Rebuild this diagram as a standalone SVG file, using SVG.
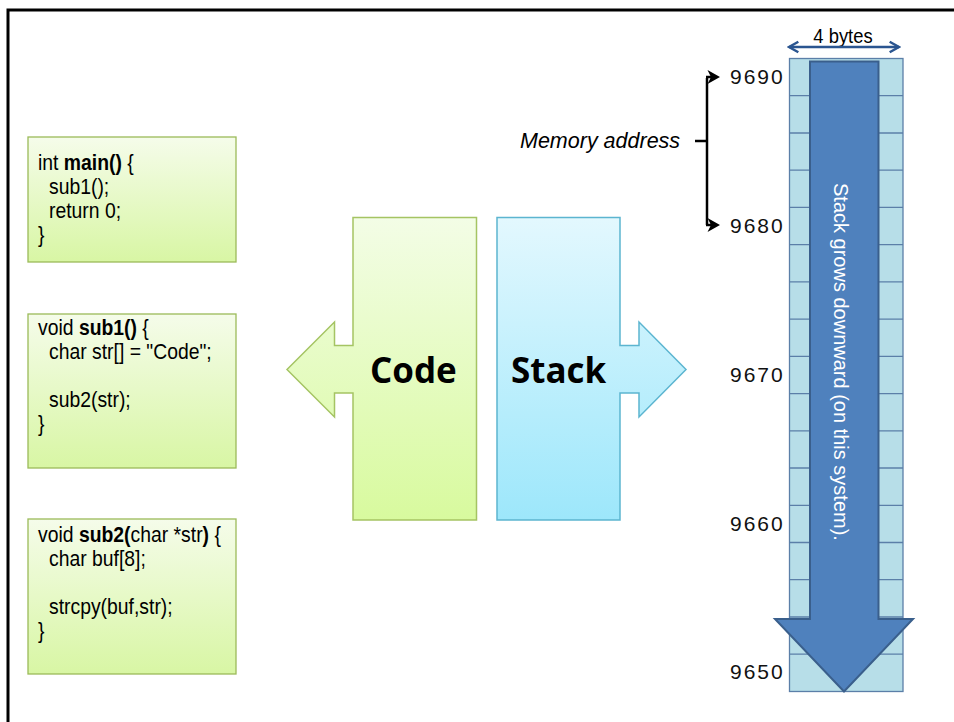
<svg xmlns="http://www.w3.org/2000/svg" width="954" height="722" viewBox="0 0 954 722">
<defs>
<linearGradient id="gGreen" x1="0" y1="0" x2="0" y2="1"><stop offset="0" stop-color="#F5FCEA"/><stop offset="1" stop-color="#D8F6A4"/></linearGradient>
<linearGradient id="gCode" x1="0" y1="0" x2="0" y2="1"><stop offset="0" stop-color="#F3FDE6"/><stop offset="1" stop-color="#D8FA9E"/></linearGradient>
<linearGradient id="gStack" x1="0" y1="0" x2="0" y2="1"><stop offset="0" stop-color="#E3F8FE"/><stop offset="1" stop-color="#9DE7FB"/></linearGradient>
<marker id="mBlue" viewBox="0 0 12 12" refX="10" refY="6" markerWidth="14" markerHeight="14" orient="auto-start-reverse" markerUnits="userSpaceOnUse">
<path d="M2,1.5 L10,6 L2,10.5" fill="none" stroke="#2A5590" stroke-width="2.2"/>
</marker>
</defs>
<style>
.code{font-family:"Liberation Sans",Arial,sans-serif;font-size:22px;fill:#000}
.b{font-weight:bold}
.box{stroke:#9BBB59;stroke-width:1.3;fill:url(#gGreen)}
.addr{font-family:"Liberation Sans",Arial,sans-serif;font-size:21px;letter-spacing:2px;fill:#111}
.cell{fill:#B7DEE8;stroke:#5B7FA8;stroke-width:1.3}
.big{font-family:"Open Sans","Liberation Sans",sans-serif;font-weight:bold;font-size:35px;fill:#000}
</style>
<rect width="954" height="722" fill="#fff"/>
<path d="M8,722 V10 H954" fill="none" stroke="#000" stroke-width="3"/>

<g id="box-main">
<rect class="box" x="28" y="137" width="208" height="125"/>
<g transform="translate(38 0) scale(0.88 1)">
<text class="code" x="0" y="170">int <tspan class="b">main()</tspan> {</text>
<text class="code" x="12.5" y="194">sub1();</text>
<text class="code" x="12.5" y="218">return 0;</text>
<text class="code" x="0" y="242">}</text>
</g>
</g>
<g id="box-sub1">
<rect class="box" x="28" y="314" width="208" height="154"/>
<g transform="translate(38 0) scale(0.88 1)">
<text class="code" x="0" y="335">void <tspan class="b">sub1()</tspan> {</text>
<text class="code" x="12.5" y="359">char str[] = "Code";</text>
<text class="code" x="12.5" y="407">sub2(str);</text>
<text class="code" x="0" y="431">}</text>
</g>
</g>
<g id="box-sub2">
<rect class="box" x="28" y="519" width="208" height="155"/>
<g transform="translate(38 0) scale(0.88 1)">
<text class="code" x="0" y="542">void <tspan class="b">sub2(</tspan>char *str<tspan class="b">)</tspan> {</text>
<text class="code" x="12.5" y="566">char buf[8];</text>
<text class="code" x="12.5" y="614">strcpy(buf,str);</text>
<text class="code" x="0" y="638">}</text>
</g>
</g>

<g id="code">
<path d="M353,217.5 H476.5 V520 H353 V393 H334.5 V417 L287,369.5 L334.5,322 V345.5 H353 Z" fill="url(#gCode)" stroke="#A5C463" stroke-width="1.5"/>
<text class="big" x="370" y="383">Code</text>
</g>
<g id="stack">
<path d="M497,217.5 H620 V345.5 H639 V322 L686,369.5 L639,417 V393 H620 V520 H497 Z" fill="url(#gStack)" stroke="#5CB5D0" stroke-width="1.5"/>
<text class="big" x="511" y="383">Stack</text>
</g>

<g id="memory-column">
<rect class="cell" x="789.5" y="58.5" width="113.5" height="633"/>
<g stroke="#5B7FA8" stroke-width="1.3">
<line x1="789.5" x2="903" y1="95.7" y2="95.7"/>
<line x1="789.5" x2="903" y1="133" y2="133"/>
<line x1="789.5" x2="903" y1="170.2" y2="170.2"/>
<line x1="789.5" x2="903" y1="207.4" y2="207.4"/>
<line x1="789.5" x2="903" y1="244.7" y2="244.7"/>
<line x1="789.5" x2="903" y1="281.9" y2="281.9"/>
<line x1="789.5" x2="903" y1="319.1" y2="319.1"/>
<line x1="789.5" x2="903" y1="356.3" y2="356.3"/>
<line x1="789.5" x2="903" y1="393.6" y2="393.6"/>
<line x1="789.5" x2="903" y1="430.8" y2="430.8"/>
<line x1="789.5" x2="903" y1="468" y2="468"/>
<line x1="789.5" x2="903" y1="505.3" y2="505.3"/>
<line x1="789.5" x2="903" y1="542.5" y2="542.5"/>
<line x1="789.5" x2="903" y1="579.7" y2="579.7"/>
<line x1="789.5" x2="903" y1="617" y2="617"/>
<line x1="789.5" x2="903" y1="654.2" y2="654.2"/>
</g>
</g>

<g id="grow-arrow">
<path d="M810,61.5 H878.5 V619 H913 L844,691.5 L775,619 H810 Z" fill="#4F81BD" stroke="#3A5F8C" stroke-width="2"/>
<text transform="translate(834,183) rotate(90)" font-family="Liberation Sans,Arial,sans-serif" font-size="20" fill="#fff">Stack grows downward (on this system).</text>
</g>

<g id="addresses">
<text class="addr" x="730" y="84">9690</text>
<text class="addr" x="730" y="233">9680</text>
<text class="addr" x="730" y="382">9670</text>
<text class="addr" x="730" y="531">9660</text>
<text class="addr" x="730" y="679">9650</text>
</g>

<g id="bytes-label">
<text x="843" y="43" text-anchor="middle" font-family="Liberation Sans,Arial,sans-serif" font-size="20" fill="#000" transform="translate(843 0) scale(0.92 1) translate(-843 0)">4 bytes</text>
</g>
<g id="memory-label">
<text x="520" y="148" font-family="Liberation Sans,Arial,sans-serif" font-style="italic" font-size="21.5" fill="#000">Memory address</text>
</g>

<g id="connectors">
<line x1="789" y1="47" x2="899" y2="47" stroke="#2A5590" stroke-width="2.4" marker-start="url(#mBlue)" marker-end="url(#mBlue)"/>
<path d="M707,78 V225" fill="none" stroke="#000" stroke-width="2.5"/>
<path d="M706,77 H712" fill="none" stroke="#000" stroke-width="2.5"/>
<path d="M706,225 H712" fill="none" stroke="#000" stroke-width="2.5"/>
<path d="M707.5,70 L720,77 L707.5,84 L711,77 Z" fill="#000"/>
<path d="M707.5,218 L720,225 L707.5,232 L711,225 Z" fill="#000"/>
<path d="M695,141 H707" fill="none" stroke="#000" stroke-width="2.5"/>
</g>
</svg>
